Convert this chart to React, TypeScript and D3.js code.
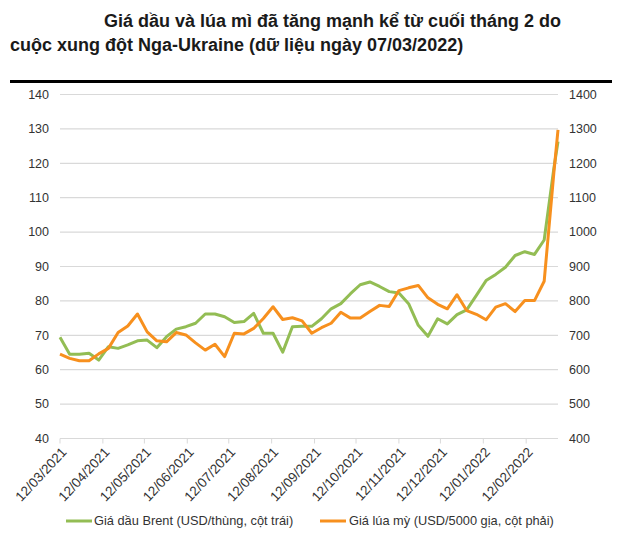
import * as d3 from 'd3';

// weekly closes (dd/mm/yyyy)
const dates = [
  '12/03/2021', '19/03/2021', '26/03/2021', '02/04/2021', '09/04/2021', '16/04/2021', '23/04/2021', '30/04/2021',
  '07/05/2021', '14/05/2021', '21/05/2021', '28/05/2021', '04/06/2021', '11/06/2021', '18/06/2021', '25/06/2021',
  '02/07/2021', '09/07/2021', '16/07/2021', '23/07/2021', '30/07/2021', '06/08/2021', '13/08/2021', '20/08/2021',
  '27/08/2021', '03/09/2021', '10/09/2021', '17/09/2021', '24/09/2021', '01/10/2021', '08/10/2021', '15/10/2021',
  '22/10/2021', '29/10/2021', '05/11/2021', '12/11/2021', '19/11/2021', '26/11/2021', '03/12/2021', '10/12/2021',
  '17/12/2021', '24/12/2021', '31/12/2021', '07/01/2022', '14/01/2022', '21/01/2022', '28/01/2022', '04/02/2022',
  '11/02/2022', '18/02/2022', '25/02/2022', '04/03/2022', '07/03/2022',
];

// Brent, USD/barrel (left axis)
const brent = [
  69.4, 64.5, 64.5, 64.8, 62.8, 66.7, 66.2, 67.2, 68.4, 68.6, 66.4, 69.6, 71.8, 72.5, 73.5, 76.2,
  76.2, 75.4, 73.7, 74.0, 76.4, 70.6, 70.6, 65.1, 72.5, 72.6, 72.6, 74.8, 77.7, 79.2, 82.1, 84.7,
  85.5, 84.2, 82.7, 82.3, 79.2, 72.9, 69.7, 74.8, 73.3, 76.0, 77.4, 81.6, 85.9, 87.7, 89.8, 93.2,
  94.3, 93.5, 97.7, 118.5, 126.3,
];

// wheat, USD/5000 bushel (right axis)
const wheat = [
  645, 633, 626, 626, 646, 662, 708, 727, 762, 710, 684, 681, 708, 701, 678, 657,
  674, 638, 706, 704, 720, 749, 783, 746, 751, 742, 706, 722, 735, 767, 750, 750,
  769, 787, 784, 830, 838, 845, 809, 790, 777, 818, 772, 761, 745, 782, 792, 769,
  801, 801, 857, 1172, 1297,
];

const xTicks = [
  '12/03/2021', '12/04/2021', '12/05/2021', '12/06/2021', '12/07/2021', '12/08/2021',
  '12/09/2021', '12/10/2021', '12/11/2021', '12/12/2021', '12/01/2022', '12/02/2022',
];
const leftTicks = [40, 50, 60, 70, 80, 90, 100, 110, 120, 130, 140];
const rightTicks = [400, 500, 600, 700, 800, 900, 1000, 1100, 1200, 1300, 1400];

const titleLines = [
  'Giá dầu và lúa mì đã tăng mạnh kể từ cuối tháng 2 do',
  'cuộc xung đột Nga-Ukraine (dữ liệu ngày 07/03/2022)',
];
const legendLabels = ['Giá dầu Brent (USD/thùng, cột trái)', 'Giá lúa mỳ (USD/5000 gịa, cột phải)'];

const GREEN = '#93bd54';
const ORANGE = '#f7901e';
const FONT = '"Liberation Sans", Arial, sans-serif';

const parse = d3.timeParse('%d/%m/%Y');

const App = () => {
  const W = 617;
  const H = 534;
  const left = 60;
  const right = 558;
  const top = 94.5;
  const bottom = 438.5;

  const x = d3.scaleTime()
    .domain([parse(dates[0]) as Date, parse(dates[dates.length - 1]) as Date])
    .range([left, right]);
  const yL = d3.scaleLinear().domain([40, 140]).range([bottom, top]);
  const yR = d3.scaleLinear().domain([400, 1400]).range([bottom, top]);

  const brentLine = d3.line<number>()
    .x((_, i) => x(parse(dates[i]) as Date))
    .y(d => yL(d));
  const wheatLine = d3.line<number>()
    .x((_, i) => x(parse(dates[i]) as Date))
    .y(d => yR(d));

  return (
    <svg width={W} height={H} style={{ position: 'absolute', left: 0, top: 0, background: '#fff' }} fontFamily={FONT}>
      {/* title */}
      <text x={104} y={27} fontSize={18} fontWeight="bold" fill="#1a1a1a">{titleLines[0]}</text>
      <text x={10} y={51} fontSize={18} fontWeight="bold" fill="#1a1a1a">{titleLines[1]}</text>
      <rect x={10} y={80} width={602} height={3} fill="#000" />

      {/* grid */}
      {leftTicks.map(t => (
        <line key={t} x1={left} x2={right} y1={yL(t)} y2={yL(t)} stroke="#d9d9d9" strokeWidth={1.2} />
      ))}
      {xTicks.map(t => (
        <line key={t} x1={x(parse(t) as Date)} x2={x(parse(t) as Date)} y1={bottom} y2={bottom + 5} stroke="#d9d9d9" strokeWidth={1} />
      ))}

      {/* left axis */}
      {leftTicks.map(t => (
        <text key={t} x={49} y={yL(t)} dy="0.35em" textAnchor="end" fontSize={12.5} fill="#333">{t}</text>
      ))}
      {/* right axis */}
      {rightTicks.map(t => (
        <text key={t} x={569} y={yR(t)} dy="0.35em" textAnchor="start" fontSize={12.5} fill="#333">{t}</text>
      ))}

      {/* x labels */}
      {xTicks.map(t => {
        const px = x(parse(t) as Date);
        return (
          <text key={t} transform={`translate(${px + 4},${bottom + 11}) rotate(-47)`} textAnchor="end" dy="0.35em" fontSize={13.5} fill="#333">{t}</text>
        );
      })}

      {/* series */}
      <path d={brentLine(brent) || ''} fill="none" stroke={GREEN} strokeWidth={3} strokeLinejoin="round" />
      <path d={wheatLine(wheat) || ''} fill="none" stroke={ORANGE} strokeWidth={3} strokeLinejoin="round" />

      {/* legend */}
      <line x1={66} x2={92} y1={521} y2={521} stroke={GREEN} strokeWidth={3} />
      <text x={94} y={521} dy="0.35em" fontSize={12.8} fill="#333">{legendLabels[0]}</text>
      <line x1={320} x2={346} y1={521} y2={521} stroke={ORANGE} strokeWidth={3} />
      <text x={349} y={521} dy="0.35em" fontSize={12.8} fill="#333">{legendLabels[1]}</text>
    </svg>
  );
};

export default App;
